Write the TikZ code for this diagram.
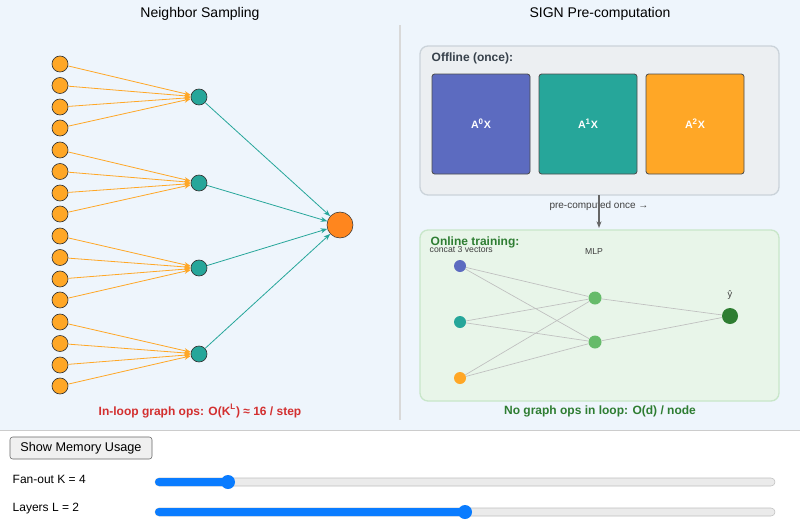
\documentclass[tikz,border=0pt]{standalone}
\usepackage{fontspec}
\setmainfont{Liberation Sans}
\usetikzlibrary{arrows.meta}
\definecolor{bgb}{HTML}{EEF5FC}
\definecolor{orn}{HTML}{FFA726}
\definecolor{tea}{HTML}{26A69A}
\definecolor{blu}{HTML}{5C6BC0}
\definecolor{lgr}{HTML}{66BB6A}
\definecolor{dgr}{HTML}{2E7D32}
\definecolor{red1}{HTML}{D32F2F}
\definecolor{slb}{HTML}{0A7CFF}
\begin{document}
\begin{tikzpicture}[x=0.75pt,y=-0.75pt,font=\fontsize{9}{11}\selectfont,
 leaf/.style={circle,draw=black!80,fill=orn,minimum size=16*0.75pt,inner sep=0pt,line width=0.5pt},
 mid/.style={circle,draw=black!80,fill=tea,minimum size=16*0.75pt,inner sep=0pt,line width=0.5pt},
 oe/.style={orn,line width=0.6pt,-{Stealth[length=5pt]}},
 te/.style={tea,line width=0.6pt,-{Stealth[length=5pt]}},
 ge/.style={black!25,line width=0.5pt},
 mn/.style={circle,inner sep=0pt,minimum size=12*0.75pt},
 big/.style={draw=black!70,rounded corners=2pt,line width=0.6pt,text=white,font=\fontsize{8}{10}\selectfont\bfseries},
 thumb/.style={circle,fill=slb,minimum size=14*0.75pt,inner sep=0pt}]
\useasboundingbox (0,0) rectangle (800,532);
\fill[white] (0,0) rectangle (800,532);
\fill[bgb] (0,0) rectangle (800,430);
\draw[black!20,line width=1pt] (0,430.5) -- (800,430.5);
\draw[black!15,line width=1pt] (400,25) -- (400,420);
\node[font=\fontsize{10.5}{12}\selectfont] (t1) at (200,14) {Neighbor Sampling};
\node[font=\fontsize{10.5}{12}\selectfont] (t2) at (600,14) {SIGN Pre-computation};
% left graph
\node[circle,draw=black!80,fill=orange!90!yellow,fill=orn!80!red,minimum size=26*0.75pt,inner sep=0pt] (r) at (340,225) {};
\foreach \g/\my in {0/97,1/183,2/268,3/354}{
 \node[mid] (m\g) at (199,\my) {};
 \draw[te] (m\g) -- (r);
 \foreach \i/\dy in {0/0,1/21.5,2/43,3/64}{
  \pgfmathsetmacro\yy{64+86*\g+\dy}
  \node[leaf] (l\g\i) at (60,\yy) {};
  \draw[oe] (l\g\i) -- (m\g);
 }}
\node[red1,font=\fontsize{9}{11}\selectfont\bfseries] (c1) at (200,411) {In-loop graph ops: O(K\textsuperscript{L}) ≈ 16 / step};
% offline
\draw[fill=black!5!bgb!90!gray,fill={rgb,255:red,236;green,239;blue,242},draw={rgb,255:red,203;green,211;blue,218},rounded corners=6pt,line width=1pt] (420,46) rectangle (779,195);
\node[anchor=west,text={rgb,255:red,55;green,65;blue,75},font=\fontsize{9}{11}\selectfont\bfseries] (off) at (427,58) {Offline (once):};
\node[big,fill=blu,minimum width=98*0.75pt,minimum height=100*0.75pt] (b0) at (481,124) {A\textsuperscript{0}X};
\node[big,fill=tea,minimum width=98*0.75pt,minimum height=100*0.75pt] (b1) at (588,124) {A\textsuperscript{1}X};
\node[big,fill=orn,minimum width=98*0.75pt,minimum height=100*0.75pt] (b2) at (695,124) {A\textsuperscript{2}X};
\coordinate (ao) at (599,195);
\node[text=black!75,font=\fontsize{7.5}{9}\selectfont] (pc) at (599,206) {pre-computed once →};
% online
\draw[fill={rgb,255:red,232;green,245;blue,233},draw={rgb,255:red,200;green,230;blue,201},rounded corners=6pt,line width=1pt] (420,230) rectangle (779,401);
\coordinate (ai) at (599,228);
\draw[black!60,line width=0.8pt,-{Stealth[length=5pt]}] (ao) -- (ai);
\node[anchor=west,text=dgr,font=\fontsize{9}{11}\selectfont\bfseries] (on) at (426,242) {Online training:};
\node[anchor=west,text=black!75,font=\fontsize{6.5}{7}\selectfont] (cc) at (425,250) {concat 3 vectors};
\node[text=black!75,font=\fontsize{6.5}{7}\selectfont] (mlp) at (594,252) {MLP};
\node[mn,fill=blu] (i0) at (460,266) {};
\node[mn,fill=tea] (i1) at (460,322) {};
\node[mn,fill=orn] (i2) at (460,378) {};
\node[mn,fill=lgr,minimum size=13*0.75pt] (h0) at (595,298) {};
\node[mn,fill=lgr,minimum size=13*0.75pt] (h1) at (595,342) {};
\node[circle,inner sep=0pt,minimum size=16*0.75pt,fill=dgr] (o) at (730,316) {};
\node[text=black!75,font=\fontsize{7}{8}\selectfont] (yh) at (730,295) {ŷ};
\foreach \a in {i0,i1,i2}{\foreach \b in {h0,h1}{\draw[ge] (\a) -- (\b);}}
\draw[ge] (h0) -- (o); \draw[ge] (h1) -- (o);
\node[dgr,font=\fontsize{9}{11}\selectfont\bfseries] (c2) at (600,411) {No graph ops in loop: O(d) / node};
% controls
\node[draw=black!60,fill=black!6,rounded corners=2pt,minimum width=142*0.75pt,minimum height=22*0.75pt,inner sep=0pt,font=\fontsize{9.5}{11}\selectfont] (btn) at (81,448) {Show Memory Usage};
\node[anchor=west,font=\fontsize{9}{11}\selectfont] (lk) at (8,479) {Fan-out K = 4};
\node[anchor=west,font=\fontsize{9}{11}\selectfont] (ll) at (8,509) {Layers L = 2};
\foreach \y/\t/\n in {482/228/k,512/465/l}{
 \draw[fill=black!8,draw=black!25,rounded corners=3pt] (155,\y-4) rectangle (775,\y+4);
 \fill[slb,rounded corners=3pt] (155,\y-4) rectangle (\t,\y+4);
 \node[thumb] (s\n) at (\t,\y) {};}
\end{tikzpicture}
\end{document}
